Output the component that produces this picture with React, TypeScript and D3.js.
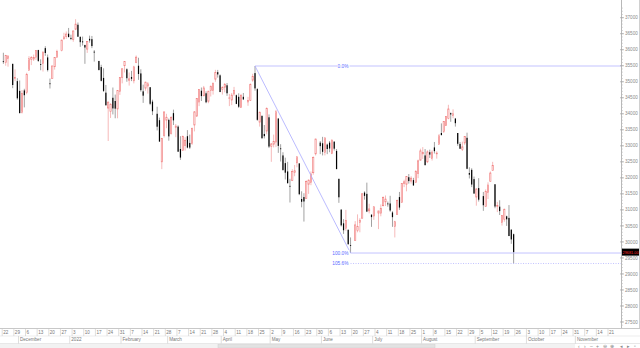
import React from "react";
import * as d3 from "d3";

// ---- Data (daily OHLC) ----
const dates = [
"2021-11-22","2021-11-23","2021-11-24","2021-11-26","2021-11-29","2021-11-30",
"2021-12-01","2021-12-02","2021-12-03","2021-12-06","2021-12-07","2021-12-08","2021-12-09","2021-12-10",
"2021-12-13","2021-12-14","2021-12-15","2021-12-16","2021-12-17","2021-12-20","2021-12-21","2021-12-22","2021-12-23",
"2021-12-27","2021-12-28","2021-12-29","2021-12-30","2021-12-31",
"2022-01-03","2022-01-04","2022-01-05","2022-01-06","2022-01-07","2022-01-10","2022-01-11","2022-01-12","2022-01-13","2022-01-14",
"2022-01-18","2022-01-19","2022-01-20","2022-01-21","2022-01-24","2022-01-25","2022-01-26","2022-01-27","2022-01-28","2022-01-31",
"2022-02-01","2022-02-02","2022-02-03","2022-02-04","2022-02-07","2022-02-08","2022-02-09","2022-02-10","2022-02-11",
"2022-02-14","2022-02-15","2022-02-16","2022-02-17","2022-02-18","2022-02-22","2022-02-23","2022-02-24","2022-02-25","2022-02-28",
"2022-03-01","2022-03-02","2022-03-03","2022-03-04","2022-03-07","2022-03-08","2022-03-09","2022-03-10","2022-03-11",
"2022-03-14","2022-03-15","2022-03-16","2022-03-17","2022-03-18","2022-03-21","2022-03-22","2022-03-23","2022-03-24","2022-03-25",
"2022-03-28","2022-03-29","2022-03-30","2022-03-31","2022-04-01","2022-04-04","2022-04-05","2022-04-06","2022-04-07","2022-04-08",
"2022-04-11","2022-04-12","2022-04-13","2022-04-14","2022-04-18","2022-04-19","2022-04-20","2022-04-21","2022-04-22",
"2022-04-25","2022-04-26","2022-04-27","2022-04-28","2022-04-29","2022-05-02","2022-05-03","2022-05-04","2022-05-05","2022-05-06",
"2022-05-09","2022-05-10","2022-05-11","2022-05-12","2022-05-13","2022-05-16","2022-05-17","2022-05-18","2022-05-19","2022-05-20",
"2022-05-23","2022-05-24","2022-05-25","2022-05-26","2022-05-27","2022-05-31","2022-06-01","2022-06-02","2022-06-03",
"2022-06-06","2022-06-07","2022-06-08","2022-06-09","2022-06-10","2022-06-13","2022-06-14","2022-06-15","2022-06-16","2022-06-17",
"2022-06-21","2022-06-22","2022-06-23","2022-06-24","2022-06-27","2022-06-28","2022-06-29","2022-06-30","2022-07-01",
"2022-07-05","2022-07-06","2022-07-07","2022-07-08","2022-07-11","2022-07-12","2022-07-13","2022-07-14","2022-07-15",
"2022-07-18","2022-07-19","2022-07-20","2022-07-21","2022-07-22","2022-07-25","2022-07-26","2022-07-27","2022-07-28","2022-07-29",
"2022-08-01","2022-08-02","2022-08-03","2022-08-04","2022-08-05","2022-08-08","2022-08-09","2022-08-10","2022-08-11","2022-08-12",
"2022-08-15","2022-08-16","2022-08-17","2022-08-18","2022-08-19","2022-08-22","2022-08-23","2022-08-24","2022-08-25","2022-08-26",
"2022-08-29","2022-08-30","2022-08-31","2022-09-01","2022-09-02","2022-09-06","2022-09-07","2022-09-08","2022-09-09",
"2022-09-12","2022-09-13","2022-09-14","2022-09-15","2022-09-16","2022-09-19","2022-09-20","2022-09-21","2022-09-22","2022-09-23"
];
const opens = [
35640,35600,35730,35560,35130,35020,
34715,34050,34730,34660,35360,35700,35710,35770,
35990,35550,35570,36050,35760,34950,35100,35470,35770,
35970,36340,36420,36500,36370,
36320,36640,36780,36400,36260,36150,36020,36340,36330,35940,
35650,35460,35120,34660,34180,34070,34500,34400,34150,34690,
35140,35500,35390,35050,35150,35030,35600,35500,35260,
34700,34800,34870,34830,34380,34000,33800,32500,33320,33800,
33810,33380,34020,33570,33600,32900,32860,33010,33300,
33090,33070,33650,33930,34370,34720,34560,34640,34390,34730,
34730,35080,35300,35200,34760,34830,34890,34490,34430,34620,
34580,34530,34200,34530,34370,34420,35050,35270,34770,
33740,33930,33370,33460,33890,32980,33050,33120,33850,32920,
32700,32460,32200,31750,31920,32170,32470,32450,31340,31400,
31360,31800,31850,32160,32750,33100,33080,32800,33040,
33100,32760,33130,32840,31970,31010,30580,30430,30380,29900,
30040,30350,30600,30740,31540,31500,30970,30850,30810,
30900,30900,31130,31250,31200,31200,30920,30480,30850,
31400,31230,31820,31800,32020,31900,31930,31860,32130,32550,
32750,32700,32500,32800,32600,32950,32760,33050,33400,33450,
33640,33850,34020,33950,33850,33400,33060,32880,33090,33250,
32150,32250,31960,31400,31680,31430,31110,31540,31890,
32230,31800,31130,31100,30600,30700,30800,30750,30380,30240
];
const highs = [
35906,35840,35820,35560,35385,35110,
35040,34740,34780,35280,35800,35800,35850,35990,
36000,35700,35940,36110,35850,35100,35500,35760,36000,
36310,36530,36570,36680,36470,
36600,36953,36850,36420,36410,36150,36260,36440,36430,35990,
35650,35530,35420,34900,34380,34330,34820,34600,34730,35140,
35410,35640,35420,35290,35340,35500,35820,35750,35390,
34910,35000,34990,34830,34440,34220,33880,33250,34060,34000,
33850,33920,34130,33680,33640,33300,33320,33270,33490,
33350,33570,34080,34490,34760,34820,34870,34700,34710,34880,
34970,35372,35370,35230,34860,34960,34960,34620,34650,34840,
34600,34640,34620,34650,34530,34950,35250,35492,34800,
34070,33960,33650,34200,33980,33080,33350,34120,33870,33050,
32800,32630,32500,31970,32270,32400,32670,32460,31580,31520,
31920,31950,32200,32670,33220,33150,33280,33250,33070,
33150,33190,33140,32900,31970,31010,30710,31000,30380,30140,
30650,30860,30740,31520,31580,31850,31190,30860,31100,
30920,31170,31420,31450,31260,31440,30960,30660,31320,
31560,31830,31940,32050,32120,32050,32000,32240,32570,32910,
32960,32900,32860,32880,32860,33120,32830,33370,33700,33770,
33930,34281,34040,34140,33870,33400,33120,33130,33300,33410,
32330,32300,32040,31660,31990,31560,31640,31860,32200,
32500,31800,31250,31300,30830,31040,30820,31150,30400,30260
];
const lows = [
35560,35500,35470,34800,35020,34440,
34010,34010,34200,34610,35360,35520,35650,35680,
35620,35360,35320,35810,35320,34790,35100,35380,35750,
35950,36320,36340,36380,36300,
36250,36610,36400,36090,36130,35560,35900,36220,36050,35630,
35350,35010,34680,34260,33150,33870,33980,33860,33860,34590,
34950,35290,35000,34880,35020,34950,35580,35060,34690,
34340,34720,34630,34270,33960,33480,33130,32272,33260,33550,
33160,33350,33650,33270,32810,32560,32860,32850,32920,
32900,33030,33450,33900,34240,34400,34560,34330,34330,34540,
34600,35000,35130,34680,34600,34670,34560,34240,34270,34560,
34300,34180,34190,34430,34250,34400,35000,34720,33780,
33600,33210,33230,33360,32930,32500,32950,32960,32780,32510,
32220,31950,31820,31230,31900,32050,32330,31460,31080,30635,
31350,31500,31770,32100,32700,32740,32700,32700,32740,
32800,32740,32850,32270,31220,30480,30250,30350,29920,29653,
30040,30300,30300,30740,31320,30930,30890,30470,30690,
30400,30800,31110,31120,31100,30940,30470,30140,30850,
31000,31230,31710,31580,31820,31820,31760,31860,31990,32550,
32590,32390,32460,32620,32540,32760,32600,33050,33320,33400,
33620,33830,33750,33860,33600,33000,32900,32840,33030,32270,
31980,31710,31500,31130,31260,30970,31100,31340,31890,
32230,31050,30930,30840,30510,30630,30500,30180,29940,29326
];
const closes = [
35619,35814,35804,34899,35136,34484,
34022,34640,34580,35227,35719,35754,35755,35971,
35651,35544,35927,35898,35365,34932,35493,35754,35951,
36302,36398,36489,36398,36338,
36585,36800,36407,36236,36232,36069,36252,36290,36114,35912,
35368,35029,34715,34265,34365,34298,34168,34161,34725,35132,
35405,35629,35111,35090,35091,35463,35768,35242,34738,
34566,34989,34934,34312,34079,33597,33132,33224,34059,33893,
33295,33891,33795,33615,32817,32633,33286,33174,32944,
32945,33544,34063,34481,34755,34553,34807,34359,34708,34861,
34956,35294,35229,34678,34818,34922,34641,34497,34584,34721,
34308,34220,34565,34451,34412,34911,35161,34793,33811,
34049,33240,33302,34161,32977,33062,33129,34061,32998,32899,
32246,32161,31834,31730,32197,32223,32655,31490,31253,31262,
31880,31929,32120,32637,33213,32990,32813,33248,32900,
32916,33180,32911,32273,31393,30517,30365,30669,29927,29889,
30530,30483,30677,31501,31438,30947,31029,30775,31097,
30968,31038,31385,31338,31174,30981,30773,30630,31288,
31073,31827,31875,32037,31899,31990,31762,32198,32530,32845,
32798,32396,32813,32727,32803,32833,32774,33310,33337,33761,
33912,34152,33980,33999,33707,33064,32910,32969,33292,32283,
32099,31791,31510,31656,31318,31145,31581,31775,32152,
32381,31105,31135,30962,30822,31020,30706,30184,30077,29681
];

// Axis labels
const priceTicks = [27500,28000,28500,29000,29500,30000,30500,31000,31500,32000,32500,33000,33500,34000,34500,35000,35500,36000,36500,37000];
const weekLabels = ["22","29","6","13","20","27","3","10","17","24","31","7","14","21","28","7","14","21","28","4","11","18","25","2","9","16","23","30","6","13","20","27","4","11","18","25","1","8","15","22","29","5","12","19","26","3","10","17","24","31","7","14","21"];
const monthLabels = ["December","2022","February","March","April","May","June","July","August","September","October","November"];
const monthStarts = ["2021-12-01","2022-01-01","2022-02-01","2022-03-01","2022-04-01","2022-05-02","2022-06-01","2022-07-01","2022-08-01","2022-09-01","2022-10-03","2022-11-01"];

// Fibonacci drawing
const fibHighDate = "2022-04-21";
const fibLowDate = "2022-06-17";
const fibHigh = 35492;
const fibLow = 29653;
const fibLevels = [0, 1, 1.056];
const fibLabels = ["0.0%", "100.0%", "105.6%"];
const lastPriceLabel = "29681.00";

const W = 640, H = 348;
const plotRight = 621.5;
const plotBottom = 328.5;
const BASE = Date.UTC(2021, 10, 22);

function dayIndex(s: string): number {
  const [yy, mm, dd] = s.split("-").map(Number);
  const days = Math.round((Date.UTC(yy, mm - 1, dd) - BASE) / 864e5);
  const w = Math.floor(days / 7);
  const dow = days % 7;
  return w * 5 + Math.min(dow, 4);
}

export default function App() {
  const x = d3.scaleLinear().domain([0, 265]).range([2.2, 2.2 + 265 * 2.33]);
  const y = d3.scaleLinear().domain([37000, 27500]).range([17.7, 17.7 + 9500 * 0.03203]);
  const bw = 1.2;

  const candles = dates.map((d, i) => ({
    i: dayIndex(d), o: opens[i], h: highs[i], l: lows[i], c: closes[i],
  }));

  const minorTicks = d3.range(27300, 37301, 100);
  const font = "'Liberation Sans', Arial, sans-serif";

  const xHigh = x(dayIndex(fibHighDate) + 0.5);
  const xLow = x(dayIndex(fibLowDate) + 0.5);
  const fibY = (lv: number) => y(fibHigh - lv * (fibHigh - fibLow));
  const lastClose = closes[closes.length - 1];

  return (
    <svg width={W} height={H} style={{ position: "fixed", left: 0, top: 0, background: "#fff" }}
      fontFamily={font}>
      <rect x={0} y={0} width={W} height={H} fill="#fff" />
      {/* candles */}
      <g>
        {candles.map((k, j) => {
          const cx = x(k.i + 0.5);
          const up = k.c >= k.o;
          const top = y(Math.max(k.o, k.c));
          const bot = y(Math.min(k.o, k.c));
          return (
            <g key={j}>
              <line x1={cx} x2={cx} y1={y(k.h)} y2={y(k.l)}
                stroke={up ? "#f4a8a8" : "#8a8a8a"} strokeWidth={0.8} />
              {up ? (
                <rect x={cx - bw / 2} y={top} width={bw} height={Math.max(bot - top, 0.8)}
                  fill="#fff" stroke="#f07474" strokeWidth={0.6} />
              ) : (
                <rect x={cx - bw / 2} y={top} width={bw} height={Math.max(bot - top, 0.8)}
                  fill="#000" />
              )}
            </g>
          );
        })}
      </g>

      {/* Fibonacci */}
      <g>
        <line x1={xHigh} y1={y(fibHigh)} x2={xLow} y2={y(fibLow)} stroke="#a9a9ff" strokeWidth={0.8} />
        <line x1={xHigh} x2={plotRight} y1={fibY(0)} y2={fibY(0)} stroke="#b4b4ff" strokeWidth={0.8} />
        <line x1={xLow} x2={plotRight} y1={fibY(1)} y2={fibY(1)} stroke="#b4b4ff" strokeWidth={0.8} />
        <line x1={xLow} x2={plotRight} y1={fibY(1.056)} y2={fibY(1.056)} stroke="#b4b4ff" strokeWidth={0.8} strokeDasharray="1,1.5" />
        {fibLevels.map((lv, i) => {
          const ty = fibY(lv);
          const tw = fibLabels[i].length * 2.6;
          return (
            <g key={i}>
              <rect x={xLow - 2 - tw - 1} y={ty - 3} width={tw + 2} height={6} fill="#fff" />
              <text x={xLow - 2} y={ty} dy="0.35em" textAnchor="end" fontSize={4.8} fill="#5b6bff">{fibLabels[i]}</text>
            </g>
          );
        })}
      </g>

      {/* right axis */}
      <g>
        <line x1={plotRight} x2={plotRight} y1={0} y2={plotBottom} stroke="#b8b8b8" strokeWidth={1} />
        {minorTicks.map((p) => (
          <line key={p} x1={plotRight} x2={plotRight + 1.5} y1={y(p)} y2={y(p)} stroke="#c0c0c0" strokeWidth={0.6} />
        ))}
        {priceTicks.map((p) => (
          <g key={p}>
            <line x1={plotRight - 1.5} x2={plotRight + 2.5} y1={y(p)} y2={y(p)} stroke="#a0a0a0" strokeWidth={0.7} />
            <text x={625} y={y(p)} dy="0.35em" fontSize={4.6} fill="#8a8a8a">{p}</text>
          </g>
        ))}
        <rect x={plotRight + 0.5} y={y(lastClose) - 3.5} width={W - plotRight - 1} height={7} fill="#000" />
        <text x={622.6} y={y(lastClose)} dy="0.35em" fontSize={4.4} fill="#ff2a2a"
          textLength={16} lengthAdjust="spacingAndGlyphs">{lastPriceLabel}</text>
        <line x1={639.5} x2={639.5} y1={0} y2={plotBottom} stroke="#d0d0d0" strokeWidth={1} />
      </g>

      {/* bottom axis */}
      <g>
        <rect x={0} y={plotBottom} width={W} height={H - plotBottom} fill="#fff" />
        <line x1={0} x2={W} y1={plotBottom} y2={plotBottom} stroke="#c8c8c8" strokeWidth={1} />
        <line x1={0} x2={W} y1={336} y2={336} stroke="#e0e0e0" strokeWidth={0.6} />
        <line x1={0} x2={W} y1={343.5} y2={343.5} stroke="#d8d8d8" strokeWidth={0.6} />
        {weekLabels.map((lab, k) => {
          const xx = x(k * 5);
          return (
            <g key={k}>
              <line x1={xx} x2={xx} y1={plotBottom} y2={336} stroke="#c8c8c8" strokeWidth={0.6} />
              <text x={xx + 1} y={332.5} dy="0.35em" fontSize={4.6} fill="#777">{lab}</text>
            </g>
          );
        })}
        {monthLabels.map((lab, k) => {
          const xx = x(dayIndex(monthStarts[k]));
          return (
            <g key={k}>
              <line x1={xx} x2={xx} y1={336} y2={343.5} stroke="#c8c8c8" strokeWidth={0.6} />
              <text x={xx + 1.5} y={339.8} dy="0.35em" fontSize={4.6} fill="#777">{lab}</text>
            </g>
          );
        })}
        {/* scrollbar */}
        <rect x={0} y={344} width={575} height={4} fill="#f2f2f2" />
        <rect x={218} y={344.5} width={217} height={3.5} fill="#e2e2e2" stroke="#cfcfcf" strokeWidth={0.5} />
        <g fill="#888" fontSize={5}>
          <text x={578} y={347.5}>‹</text>
          <text x={584} y={347.5}>›</text>
          <text x={590} y={347.5}>–</text>
          <text x={596} y={347.5}>+</text>
          <text x={603} y={347.5}>⊖</text>
          <text x={610} y={347.5}>⊕</text>
          <text x={620} y={347.5}>◂</text>
          <text x={627} y={347.5}>▸</text>
          <text x={634} y={347.5}>▫</text>
        </g>
      </g>
    </svg>
  );
}
